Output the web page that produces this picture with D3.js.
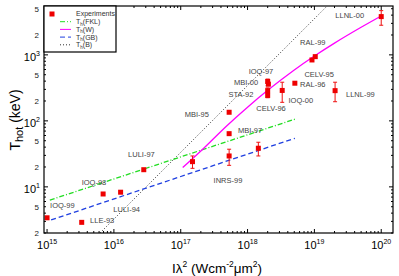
<!DOCTYPE html>
<html>
<head>
<meta charset="utf-8">
<script src="https://cdn.jsdelivr.net/npm/d3@7"></script>
<style>
  body { margin: 0; background: #fff; }
  svg { font-family: "Liberation Sans", Arial, sans-serif; }
</style>
</head>
<body>
<div id="chart"></div>
<script>
// DATA
// ---------------------------------------------------------------
const expNames = ["IOQ-99", "LLE-93", "IOQ-98", "LULI-94", "LULI-97", "", "MBI-95", "MBI-97", "", "",
  "MBI-00", "IOQ-97", "STA-92", "CELV-96", "IOQ-00", "RAL-96", "RAL-99", "CELV-95", "LLNL-99", "LLNL-00"];
const expX = [1e15, 3.3e15, 6.9e15, 1.26e16, 2.8e16, 1.5e17, 5.3e17, 5.3e17, 5.3e17, 1.45e18,
  2.0e18, 2.05e18, 2.0e18, 2.0e18, 3.3e18, 5.1e18, 9.2e18, 1.03e19, 2.04e19, 1e20];
const expT = [3.4, 2.9, 7.8, 8.3, 18.2, 24.1, 135, 64, 29.4, 38.5,
  395, 360, 287, 243, 289, 372, 837, 940, 287, 3800];
const errLo = [null, null, null, null, null, 19.1, null, null, 21.2, 29.4,
  340, null, null, 224, 191, null, null, null, 195, 2810];
const errHi = [null, null, null, null, null, 29.4, null, null, 37.2, 47.4,
  430, null, null, 316, 385, null, null, null, 385, 4680];

// annotation labels (data coords of left / middle of text)
const labelText = ["LLNL-00", "RAL-99", "IOQ-97", "MBI-00", "CELV-95", "RAL-96", "STA-92", "IOQ-00", "LLNL-99",
  "CELV-96", "MBI-95", "MBI-97", "INRS-99", "LULI-97", "IOQ-98", "IOQ-99", "LULI-94", "LLE-93"];
const labelX = [2.06e19, 6.1e18, 1.04e18, 6.25e17, 7.1e18, 6.1e18, 5.2e17, 4.1e18, 2.97e19,
  1.35e18, 1.15e17, 7.2e17, 3.1e17, 1.63e16, 3.3e15, 1.11e15, 9.8e15, 4.4e15];
const labelY = [4030, 1550, 565, 388, 514, 359, 256, 207, 256,
  155, 126, 72.8, 12.4, 31.2, 11.6, 5.26, 4.62, 3.15];

// scaling curves
const fklX = [1.1e15, 5.1e18];
const fklT = [6.3, 106];
const gbX = [1.15e15, 5.1e18];
const gbT = [3.15, 54.5];
const bX = [6.2e15, 1.55e19];
const bT = [2, 5500];
const wX = [1.07e17, 2e17, 5e17, 1e18, 2e18, 5e18, 1e19, 2e19, 5e19, 1e20];
const wT = [19.6, 35, 86, 161, 290, 591, 961, 1507, 2618, 3886];

const xMajor = [1e15, 1e16, 1e17, 1e18, 1e19, 1e20];
const yMajor = [10, 100, 1000];
const yLabeled = [2, 5, 20, 50, 200, 500, 2000, 5000];

// LAYOUT
// ---------------------------------------------------------------
const W = 399, H = 276;
const mLeft = 44, mRight = 393, mTop = 6, mBottom = 233;

const x = d3.scaleLog([9e14, 1.5e20], [mLeft, mRight]);
const y = d3.scaleLog([2, 5500], [mBottom, mTop]);

const svg = d3.select("#chart").append("svg")
  .attr("width", W).attr("height", H);

// minor tick values
const xMinor = [];
for (let e = 14; e <= 20; e++) for (let k = 2; k <= 9; k++) {
  const v = k * Math.pow(10, e);
  if (v > 9e14 && v < 1.5e20) xMinor.push(v);
}
const yMinor = [];
for (let e = 0; e <= 3; e++) for (let k = 2; k <= 9; k++) {
  const v = k * Math.pow(10, e);
  if (v >= 2 && v <= 5500) yMinor.push(v);
}

// CURVES
// ---------------------------------------------------------------
const plot = svg.append("g");
const line = d3.line().x(d => x(d[0])).y(d => y(d[1]));

plot.append("path").datum(d3.zip(bX, bT))
  .attr("d", line).attr("fill", "none")
  .attr("stroke", "#333").attr("stroke-width", 1).attr("stroke-dasharray", "1,2");
plot.append("path").datum(d3.zip(fklX, fklT))
  .attr("d", line).attr("fill", "none")
  .attr("stroke", "#22dd22").attr("stroke-width", 1.3).attr("stroke-dasharray", "5,2,1,2");
plot.append("path").datum(d3.zip(gbX, gbT))
  .attr("d", line).attr("fill", "none")
  .attr("stroke", "#1f3fe0").attr("stroke-width", 1.3).attr("stroke-dasharray", "5,3");
plot.append("path").datum(d3.zip(wX, wT))
  .attr("d", d3.line().curve(d3.curveMonotoneX).x(d => x(d[0])).y(d => y(d[1])))
  .attr("fill", "none").attr("stroke", "#ff00ff").attr("stroke-width", 1.3);

// ERROR BARS + POINTS
// ---------------------------------------------------------------
const pts = expX.map((v, i) => ({ x: v, t: expT[i], lo: errLo[i], hi: errHi[i] }));
const eb = plot.selectAll("g.eb").data(pts.filter(d => d.lo !== null)).enter().append("g")
  .attr("stroke", "#ee1111").attr("stroke-width", 1);
eb.append("line").attr("x1", d => x(d.x)).attr("x2", d => x(d.x))
  .attr("y1", d => y(d.lo)).attr("y2", d => y(d.hi));
eb.append("line").attr("x1", d => x(d.x) - 2).attr("x2", d => x(d.x) + 2)
  .attr("y1", d => y(d.lo)).attr("y2", d => y(d.lo));
eb.append("line").attr("x1", d => x(d.x) - 2).attr("x2", d => x(d.x) + 2)
  .attr("y1", d => y(d.hi)).attr("y2", d => y(d.hi));

plot.selectAll("rect.pt").data(pts).enter().append("rect")
  .attr("x", d => x(d.x) - 2.5).attr("y", d => y(d.t) - 2.5)
  .attr("width", 5).attr("height", 5).attr("fill", "#ee0000");

// LABELS
// ---------------------------------------------------------------
plot.selectAll("text.lab").data(labelText).enter().append("text")
  .attr("x", (d, i) => x(labelX[i])).attr("y", (d, i) => y(labelY[i]))
  .attr("dy", "0.35em").attr("font-size", 7.5).attr("fill", "#444")
  .text(d => d);

// FRAME + TICKS
// ---------------------------------------------------------------
const ax = svg.append("g").attr("stroke", "#000");
ax.append("rect").attr("x", mLeft).attr("y", mTop)
  .attr("width", mRight - mLeft).attr("height", mBottom - mTop)
  .attr("fill", "none").attr("stroke-width", 1.2);

const tickX = (vals, len) => {
  vals.forEach(v => {
    ax.append("line").attr("x1", x(v)).attr("x2", x(v)).attr("y1", mBottom).attr("y2", mBottom - len);
    ax.append("line").attr("x1", x(v)).attr("x2", x(v)).attr("y1", mTop).attr("y2", mTop + len);
  });
};
const tickY = (vals, len) => {
  vals.forEach(v => {
    ax.append("line").attr("y1", y(v)).attr("y2", y(v)).attr("x1", mLeft).attr("x2", mLeft + len);
    ax.append("line").attr("y1", y(v)).attr("y2", y(v)).attr("x1", mRight).attr("x2", mRight - len);
  });
};
tickX(xMinor, 2); tickX(xMajor, 4);
tickY(yMinor, 2); tickY(yMajor, 4);

// x tick labels
xMajor.forEach(v => {
  const t = svg.append("text").attr("x", x(v)).attr("y", 249)
    .attr("text-anchor", "middle").attr("font-size", 11);
  t.append("tspan").text("10");
  t.append("tspan").attr("dy", -5).attr("font-size", 7).text(Math.round(Math.log10(v)));
});
// y tick labels
yMajor.forEach(v => {
  const t = svg.append("text").attr("x", 40).attr("y", y(v) + 6)
    .attr("text-anchor", "end").attr("font-size", 11);
  t.append("tspan").text("10");
  t.append("tspan").attr("dy", -5).attr("font-size", 7).text(Math.round(Math.log10(v)));
});
yLabeled.forEach(v => {
  svg.append("text").attr("x", 39).attr("y", y(v)).attr("dy", "0.35em")
    .attr("text-anchor", "end").attr("font-size", 8).attr("fill", "#222")
    .text(String(v)[0]);
});

// AXIS TITLES
// ---------------------------------------------------------------
const xt = svg.append("text").attr("x", 172).attr("y", 273).attr("font-size", 13.5);
xt.append("tspan").text("I\u03bb");
xt.append("tspan").attr("dy", -6).attr("font-size", 8.5).text("2");
xt.append("tspan").attr("dy", 6).text(" (Wcm");
xt.append("tspan").attr("dy", -6).attr("font-size", 8.5).text("-2");
xt.append("tspan").attr("dy", 6).text("\u03bcm");
xt.append("tspan").attr("dy", -6).attr("font-size", 8.5).text("2");
xt.append("tspan").attr("dy", 6).text(")");

const yt = svg.append("text").attr("transform", "translate(20,120) rotate(-90)")
  .attr("text-anchor", "middle").attr("font-size", 14);
yt.append("tspan").text("T");
yt.append("tspan").attr("dy", 3).attr("font-size", 11).text("hot");
yt.append("tspan").attr("dy", -3).text(" (keV)");

// LEGEND
// ---------------------------------------------------------------
const legKeys = ["Experiments", "(FKL)", "(W)", "(GB)", "(B)"];
const legColor = [null, "#22dd22", "#ff00ff", "#1f3fe0", "#333"];
const legDash = [null, "5,2,1,2", null, "5,3", "1,2"];
const leg = svg.append("g");
leg.append("rect").attr("x", mLeft).attr("y", mTop).attr("width", 72).attr("height", 46)
  .attr("fill", "#fff").attr("stroke", "#000").attr("stroke-width", 1.2);
legKeys.forEach((k, i) => {
  const ly = 14 + i * 7.7;
  if (i === 0) {
    leg.append("rect").attr("x", 49.5).attr("y", ly - 2.5).attr("width", 5).attr("height", 5)
      .attr("fill", "#ee0000");
  } else {
    leg.append("line").attr("x1", 60).attr("x2", 71).attr("y1", ly).attr("y2", ly)
      .attr("stroke", legColor[i]).attr("stroke-width", 1)
      .attr("stroke-dasharray", legDash[i]);
  }
  const t = leg.append("text").attr("x", 76).attr("y", ly).attr("dy", "0.35em")
    .attr("font-size", 7).attr("fill", "#333");
  if (i === 0) t.text(k);
  else {
    t.append("tspan").text("T");
    t.append("tspan").attr("dy", 1.5).attr("font-size", 4.5).text("h");
    t.append("tspan").attr("dy", -1.5).text(k);
  }
});
</script>
</body>
</html>
